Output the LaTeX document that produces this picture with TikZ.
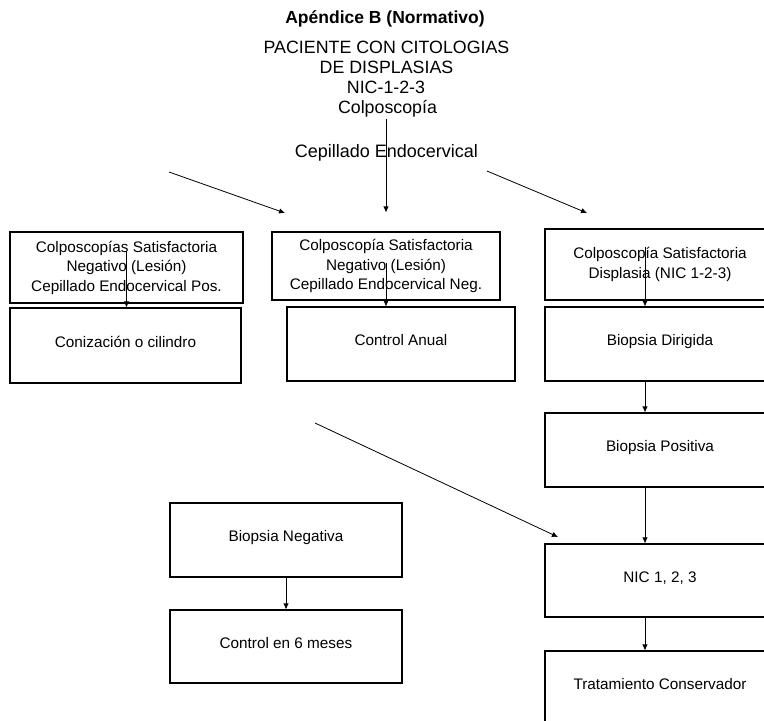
\documentclass[tikz,border=0pt]{standalone}
\usepackage{fontspec}
\setmainfont{Liberation Sans}
\usepackage{tikz}
\usetikzlibrary{arrows.meta}

\tikzset{
    box/.style={draw, line width=1.1pt, inner sep=0pt, align=center,
        font=\fontsize{15.3}{19.5}\selectfont},
    oneline/.style={box, text height=11pt, text depth=8pt},
    headline/.style={anchor=base, inner sep=2pt, font=\fontsize{17.8}{20.5}\selectfont},
    arr/.style={line width=0.8pt, -{Latex[length=6pt,width=5.5pt]}}
}

\begin{document}
\begin{tikzpicture}[x=1pt, y=-1pt]
        \clip (0,0) rectangle (764,721);

        \node[headline, font=\bfseries\fontsize{17.5}{20.5}\selectfont] (title) at (385,23) {Apéndice B (Normativo)};
        \node[headline] (pac1) at (386.5,53) {PACIENTE CON CITOLOGIAS};
        \node[headline] (pac2) at (386.5,73) {DE DISPLASIAS};
        \node[headline] (nic0) at (386,93) {NIC-1-2-3};
        \node[headline] (colpo) at (387.5,113) {Colposcopía};
        \node[headline, font=\fontsize{18}{20.5}\selectfont] (cepillado) at (386.5,157) {Cepillado Endocervical};

        \node[box, minimum width=233pt, minimum height=71pt] (colpA) at (126.5,267.5)
            {Colposcopías Satisfactoria\\Negativo (Lesión)\\Cepillado Endocervical Pos.};
        \node[oneline, minimum width=231pt, minimum height=75pt] (coniz) at (125.5,345.5) {Conización o cilindro};

        \node[box, minimum width=228pt, minimum height=68pt] (colpB) at (386,266)
            {Colposcopía Satisfactoria\\Negativo (Lesión)\\Cepillado Endocervical Neg.};
        \node[oneline, minimum width=228pt, minimum height=74pt] (anual) at (401,344) {Control Anual};

        \node[box, minimum width=230pt, minimum height=71pt] (colpC) at (660,264.5)
            {Colposcopía Satisfactoria\\Displasia (NIC 1-2-3)};
        \node[oneline, minimum width=230pt, minimum height=74pt] (dirigida) at (660,344) {Biopsia Dirigida};
        \node[oneline, minimum width=230pt, minimum height=74pt] (positiva) at (660,450) {Biopsia Positiva};
        \node[oneline, minimum width=230pt, minimum height=73pt] (nic) at (660,580.5) {NIC 1, 2, 3};
        \node[oneline, minimum width=230pt, minimum height=74pt] (trata) at (660,688) {Tratamiento Conservador};

        \node[oneline, minimum width=232pt, minimum height=74pt] (negativa) at (286,540) {Biopsia Negativa};
        \node[oneline, minimum width=232pt, minimum height=73pt] (seis) at (286,646.5) {Control en 6 meses};

        \coordinate (l0) at (169,172);
        \coordinate (l1) at (285,213);
        \coordinate (r0) at (487,171);
        \coordinate (r1) at (587,213);
        \coordinate (d0) at (315,423);
        \coordinate (d1) at (558,537);

        \draw[arr, shorten >=19pt] (colpB.north |- colpo.south) -- (colpB.north);
        \draw[arr] (l0) -- (l1);
        \draw[arr] (r0) -- (r1);

        \draw[arr] ([yshift=17pt]colpA.center) -- (colpA.center |- coniz.north);
        \draw[arr] ([yshift=3pt]colpB.center) -- (colpB.center |- anual.north);
        \draw[arr] ([shift={(-15pt,18pt)}]colpC.center) -- ([xshift=-15pt]dirigida.north);
        \draw[arr] ([xshift=-15pt]dirigida.south) -- ([xshift=-15pt]positiva.north);
        \draw[arr] ([xshift=-15pt]positiva.south) -- ([xshift=-15pt]nic.north);
        \draw[arr] ([xshift=-15pt]nic.south) -- ([xshift=-15pt]trata.north);

        \draw[arr] (d0) -- (d1);
        \draw[arr] (negativa.south) -- (seis.north);
    \end{tikzpicture}
\end{document}
